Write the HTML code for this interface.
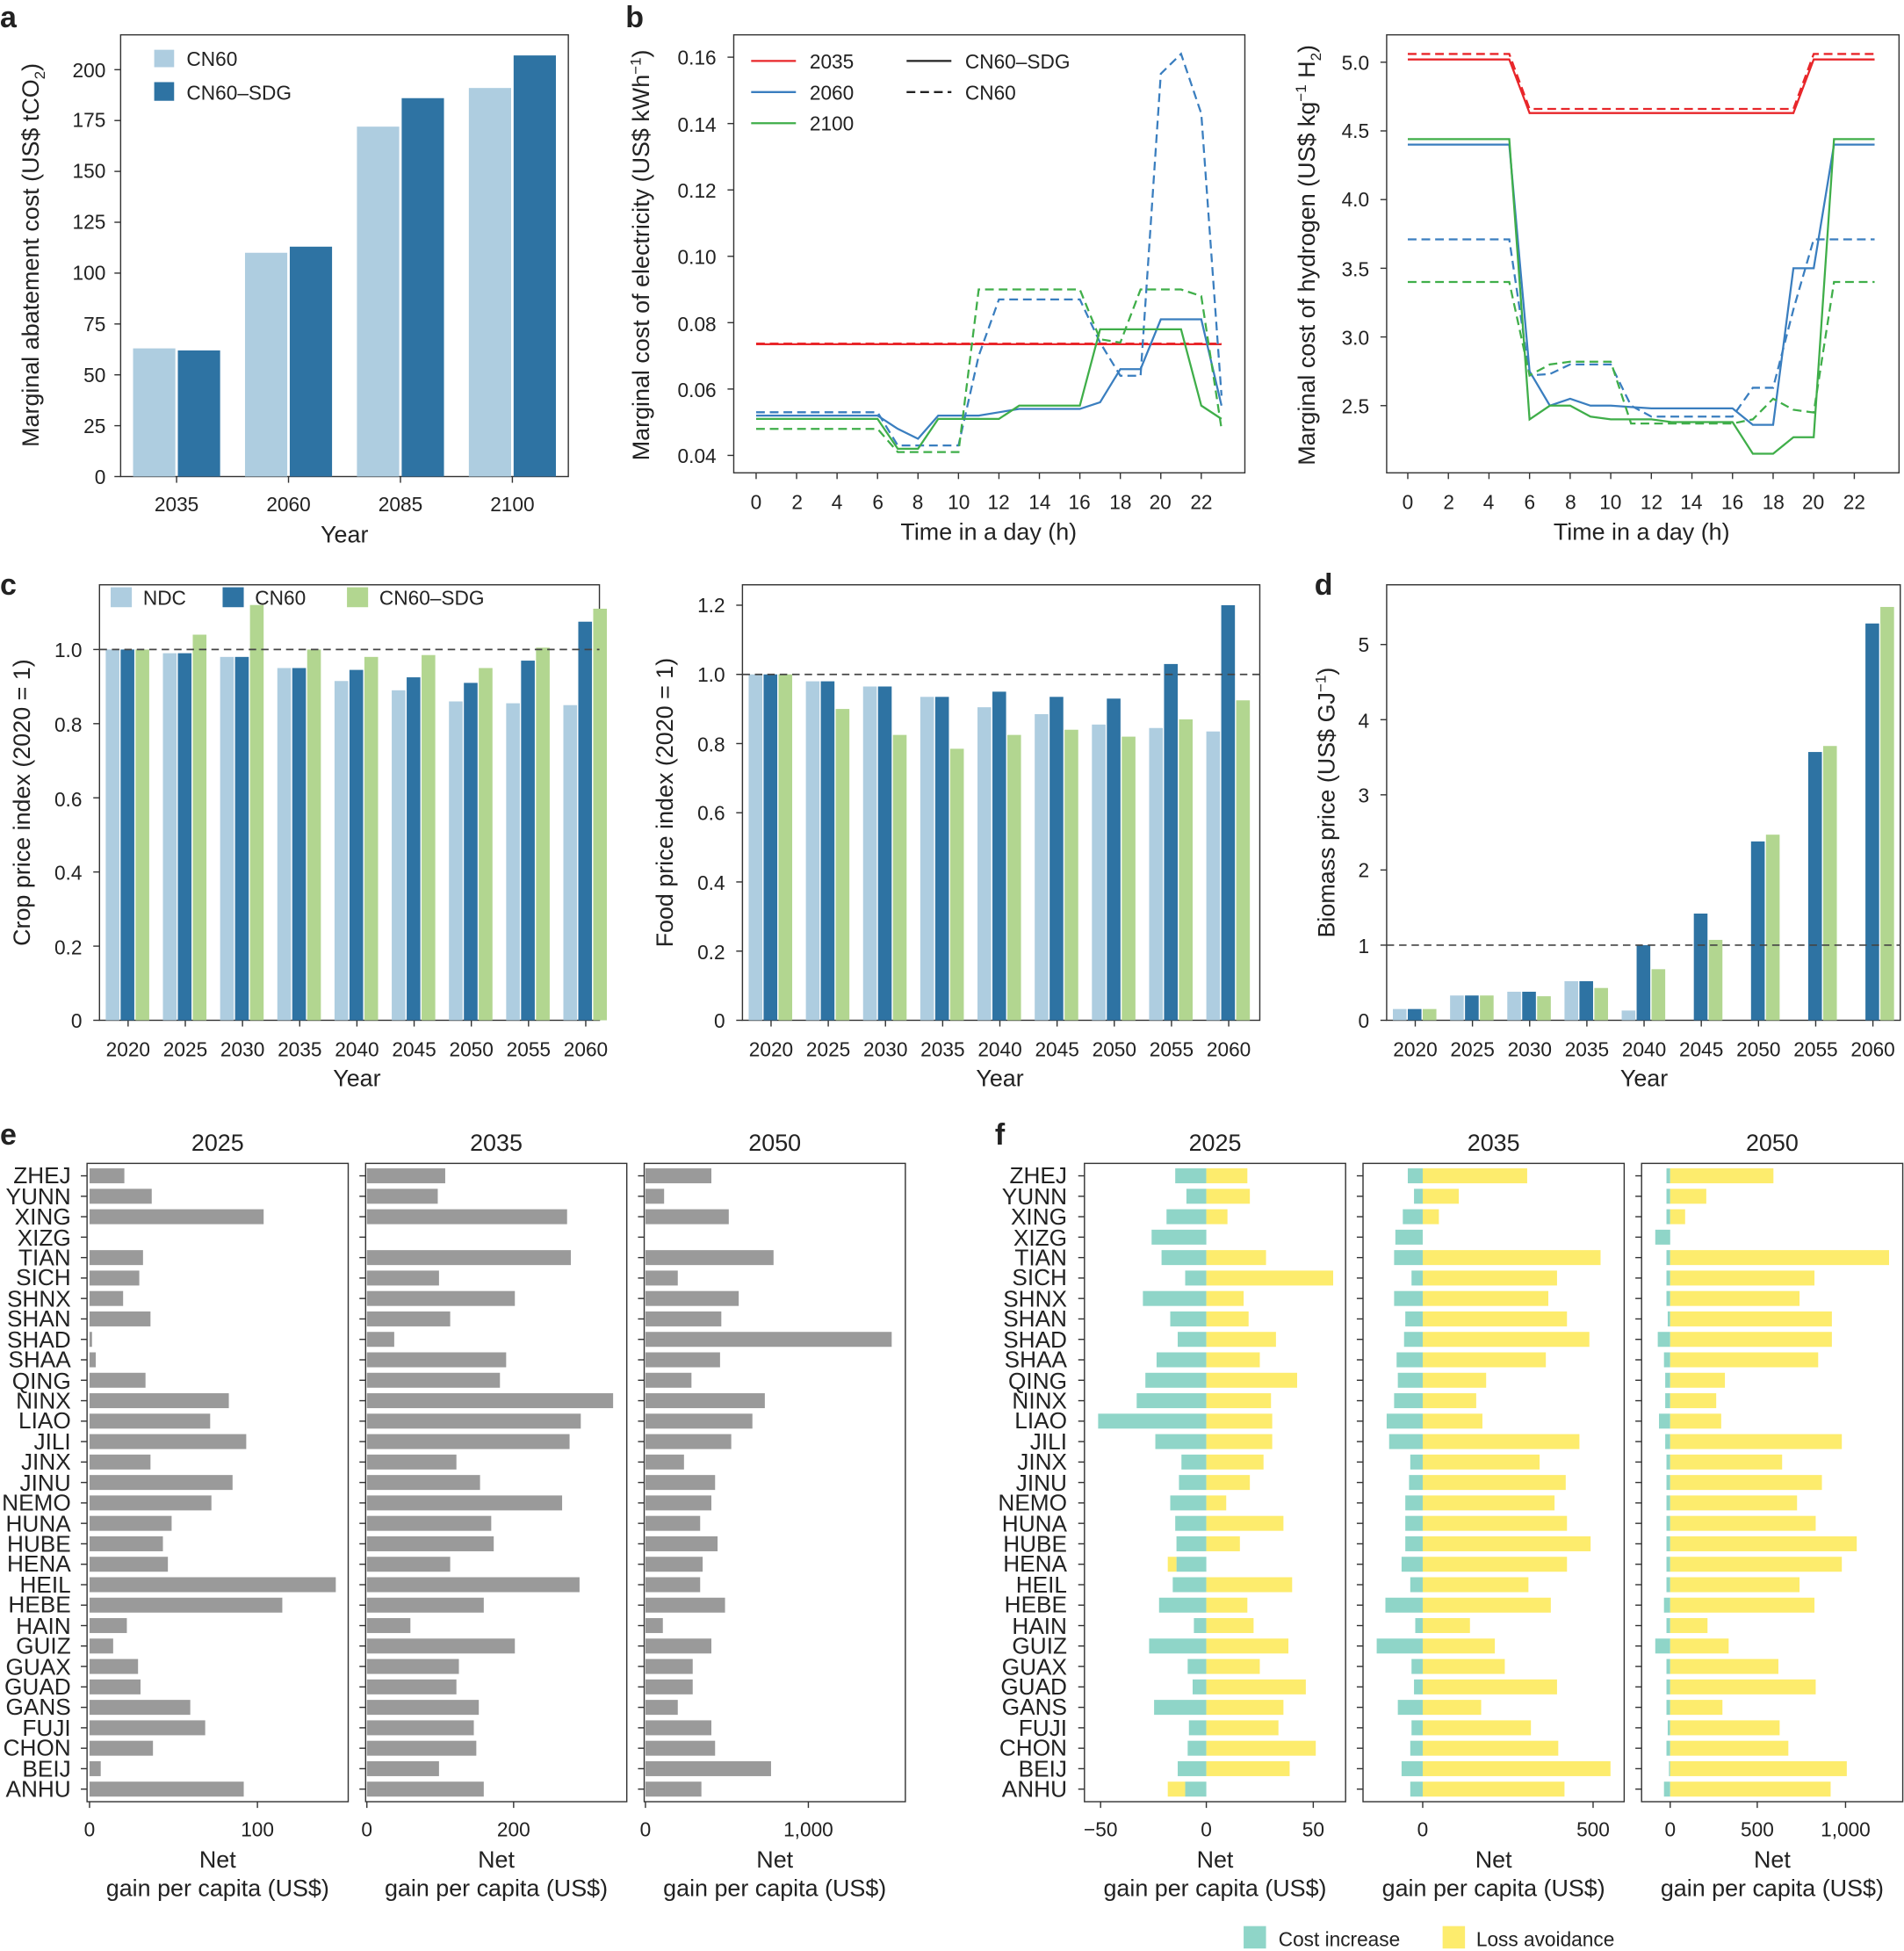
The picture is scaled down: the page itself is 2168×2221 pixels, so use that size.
<!DOCTYPE html>
<html><head><meta charset="utf-8"><style>
html,body{margin:0;padding:0;background:#fff}
svg{display:block}
text{font-family:"Liberation Sans",sans-serif;fill:#222}
.t{font-size:16px}
.ti{font-size:19px}
.p{font-size:18.5px}
.L{font-size:24px;font-weight:bold}
</style></head><body>
<svg id="s" width="2168" height="2221" viewBox="0 0 1531 1568" preserveAspectRatio="none" xmlns="http://www.w3.org/2000/svg">
<g id="g"></g>
<text class="L" x="0" y="22">a</text>
<text class="L" x="503" y="22">b</text>
<text class="L" x="0" y="478">c</text>
<text class="L" x="1057" y="478">d</text>
<text class="L" x="0" y="920">e</text>
<text class="L" x="800" y="920">f</text>

<g class="t" text-anchor="end">
<text x="85" y="389">0</text><text x="85" y="348">25</text><text x="85" y="307">50</text><text x="85" y="266">75</text><text x="85" y="225">100</text><text x="85" y="184">125</text><text x="85" y="143">150</text><text x="85" y="102">175</text><text x="85" y="62">200</text>
</g>
<g class="t" text-anchor="middle">
<text x="142" y="411">2035</text><text x="232" y="411">2060</text><text x="322" y="411">2085</text><text x="412" y="411">2100</text>
</g>
<text class="ti" x="277" y="436" text-anchor="middle">Year</text>
<text class="ti" transform="translate(31,205) rotate(-90)" text-anchor="middle">Marginal abatement cost (US$ tCO<tspan font-size="12" dy="5">2</tspan><tspan dy="-5">)</tspan></text>
<text class="t" x="150" y="53">CN60</text><text class="t" x="150" y="80">CN60–SDG</text>

<g class="t" text-anchor="end">
<text x="576" y="372">0.04</text><text x="576" y="319">0.06</text><text x="576" y="266">0.08</text><text x="576" y="212">0.10</text><text x="576" y="159">0.12</text><text x="576" y="106">0.14</text><text x="576" y="52">0.16</text>
</g>
<g class="t" text-anchor="middle">
<text x="608" y="409">0</text><text x="641" y="409">2</text><text x="673" y="409">4</text><text x="706" y="409">6</text><text x="738" y="409">8</text><text x="771" y="409">10</text><text x="803" y="409">12</text><text x="836" y="409">14</text><text x="868" y="409">16</text><text x="901" y="409">18</text><text x="933" y="409">20</text><text x="966" y="409">22</text>
</g>
<text class="ti" x="795" y="434" text-anchor="middle">Time in a day (h)</text>
<text class="ti" transform="translate(522,205) rotate(-90)" text-anchor="middle">Marginal cost of electricity (US$ kWh<tspan font-size="12" dy="-7">−1</tspan><tspan dy="7">)</tspan></text>
<text class="t" x="651" y="55">2035</text><text class="t" x="651" y="80">2060</text><text class="t" x="651" y="105">2100</text>
<text class="t" x="776" y="55">CN60–SDG</text><text class="t" x="776" y="80">CN60</text>

<g class="t" text-anchor="end">
<text x="1101" y="332">2.5</text><text x="1101" y="277">3.0</text><text x="1101" y="222">3.5</text><text x="1101" y="166">4.0</text><text x="1101" y="111">4.5</text><text x="1101" y="56">5.0</text>
</g>
<g class="t" text-anchor="middle">
<text x="1132" y="409">0</text><text x="1165" y="409">2</text><text x="1197" y="409">4</text><text x="1230" y="409">6</text><text x="1263" y="409">8</text><text x="1295" y="409">10</text><text x="1328" y="409">12</text><text x="1360" y="409">14</text><text x="1393" y="409">16</text><text x="1426" y="409">18</text><text x="1458" y="409">20</text><text x="1491" y="409">22</text>
</g>
<text class="ti" x="1320" y="434" text-anchor="middle">Time in a day (h)</text>
<text class="ti" transform="translate(1057,205) rotate(-90)" text-anchor="middle">Marginal cost of hydrogen (US$ kg<tspan font-size="12" dy="-7">−1</tspan><tspan dy="7"> H</tspan><tspan font-size="12" dy="5">2</tspan><tspan dy="-5">)</tspan></text>

<g class="t" text-anchor="end">
<text x="66" y="826">0</text><text x="66" y="767">0.2</text><text x="66" y="707">0.4</text><text x="66" y="648">0.6</text><text x="66" y="588">0.8</text><text x="66" y="528">1.0</text>
</g>
<g class="t" text-anchor="middle">
<text x="103" y="849">2020</text><text x="149" y="849">2025</text><text x="195" y="849">2030</text><text x="241" y="849">2035</text><text x="287" y="849">2040</text><text x="333" y="849">2045</text><text x="379" y="849">2050</text><text x="425" y="849">2055</text><text x="471" y="849">2060</text>
</g>
<text class="ti" x="287" y="873" text-anchor="middle">Year</text>
<text class="ti" transform="translate(24,645) rotate(-90)" text-anchor="middle">Crop price index (2020 = 1)</text>
<text class="t" x="115" y="486">NDC</text><text class="t" x="205" y="486">CN60</text><text class="t" x="305" y="486">CN60–SDG</text>

<g class="t" text-anchor="end">
<text x="583" y="826">0</text><text x="583" y="771">0.2</text><text x="583" y="715">0.4</text><text x="583" y="659">0.6</text><text x="583" y="604">0.8</text><text x="583" y="548">1.0</text><text x="583" y="492">1.2</text>
</g>
<g class="t" text-anchor="middle">
<text x="620" y="849">2020</text><text x="666" y="849">2025</text><text x="712" y="849">2030</text><text x="758" y="849">2035</text><text x="804" y="849">2040</text><text x="850" y="849">2045</text><text x="896" y="849">2050</text><text x="942" y="849">2055</text><text x="988" y="849">2060</text>
</g>
<text class="ti" x="804" y="873" text-anchor="middle">Year</text>
<text class="ti" transform="translate(541,645) rotate(-90)" text-anchor="middle">Food price index (2020 = 1)</text>

<g class="t" text-anchor="end">
<text x="1101" y="826">0</text><text x="1101" y="766">1</text><text x="1101" y="705">2</text><text x="1101" y="645">3</text><text x="1101" y="585">4</text><text x="1101" y="524">5</text>
</g>
<g class="t" text-anchor="middle">
<text x="1138" y="849">2020</text><text x="1184" y="849">2025</text><text x="1230" y="849">2030</text><text x="1276" y="849">2035</text><text x="1322" y="849">2040</text><text x="1368" y="849">2045</text><text x="1414" y="849">2050</text><text x="1460" y="849">2055</text><text x="1506" y="849">2060</text>
</g>
<text class="ti" x="1322" y="873" text-anchor="middle">Year</text>
<text class="ti" transform="translate(1073,645) rotate(-90)" text-anchor="middle">Biomass price (US$ GJ<tspan font-size="12" dy="-7">−1</tspan><tspan dy="7">)</tspan></text>

<g class="ti" text-anchor="middle">
<text x="175" y="925">2025</text><text x="399" y="925">2035</text><text x="623" y="925">2050</text>
<text x="977" y="925">2025</text><text x="1201" y="925">2035</text><text x="1425" y="925">2050</text>
</g>
<g class="t" text-anchor="middle">
<text x="72" y="1476">0</text><text x="207" y="1476">100</text>
<text x="295" y="1476">0</text><text x="413" y="1476">200</text>
<text x="519" y="1476">0</text><text x="650" y="1476">1,000</text>
<text x="885" y="1476">−50</text><text x="970" y="1476">0</text><text x="1056" y="1476">50</text>
<text x="1144" y="1476">0</text><text x="1281" y="1476">500</text>
<text x="1343" y="1476">0</text><text x="1413" y="1476">500</text><text x="1484" y="1476">1,000</text>
</g>
<g class="ti" text-anchor="middle">
<text x="175" y="1501">Net</text><text x="175" y="1524">gain per capita (US$)</text>
<text x="399" y="1501">Net</text><text x="399" y="1524">gain per capita (US$)</text>
<text x="623" y="1501">Net</text><text x="623" y="1524">gain per capita (US$)</text>
<text x="977" y="1501">Net</text><text x="977" y="1524">gain per capita (US$)</text>
<text x="1201" y="1501">Net</text><text x="1201" y="1524">gain per capita (US$)</text>
<text x="1425" y="1501">Net</text><text x="1425" y="1524">gain per capita (US$)</text>
</g>
<g class="p" text-anchor="end">
<text x="57" y="951">ZHEJ</text><text x="57" y="968">YUNN</text><text x="57" y="984">XING</text><text x="57" y="1001">XIZG</text><text x="57" y="1017">TIAN</text><text x="57" y="1033">SICH</text><text x="57" y="1050">SHNX</text><text x="57" y="1066">SHAN</text><text x="57" y="1083">SHAD</text><text x="57" y="1099">SHAA</text><text x="57" y="1116">QING</text><text x="57" y="1132">NINX</text><text x="57" y="1148">LIAO</text><text x="57" y="1165">JILI</text><text x="57" y="1181">JINX</text><text x="57" y="1198">JINU</text><text x="57" y="1214">NEMO</text><text x="57" y="1231">HUNA</text><text x="57" y="1247">HUBE</text><text x="57" y="1263">HENA</text><text x="57" y="1280">HEIL</text><text x="57" y="1296">HEBE</text><text x="57" y="1313">HAIN</text><text x="57" y="1329">GUIZ</text><text x="57" y="1346">GUAX</text><text x="57" y="1362">GUAD</text><text x="57" y="1378">GANS</text><text x="57" y="1395">FUJI</text><text x="57" y="1411">CHON</text><text x="57" y="1428">BEIJ</text><text x="57" y="1444">ANHU</text>
</g>
<g class="p" text-anchor="end">
<text x="858" y="951">ZHEJ</text><text x="858" y="968">YUNN</text><text x="858" y="984">XING</text><text x="858" y="1001">XIZG</text><text x="858" y="1017">TIAN</text><text x="858" y="1033">SICH</text><text x="858" y="1050">SHNX</text><text x="858" y="1066">SHAN</text><text x="858" y="1083">SHAD</text><text x="858" y="1099">SHAA</text><text x="858" y="1116">QING</text><text x="858" y="1132">NINX</text><text x="858" y="1148">LIAO</text><text x="858" y="1165">JILI</text><text x="858" y="1181">JINX</text><text x="858" y="1198">JINU</text><text x="858" y="1214">NEMO</text><text x="858" y="1231">HUNA</text><text x="858" y="1247">HUBE</text><text x="858" y="1263">HENA</text><text x="858" y="1280">HEIL</text><text x="858" y="1296">HEBE</text><text x="858" y="1313">HAIN</text><text x="858" y="1329">GUIZ</text><text x="858" y="1346">GUAX</text><text x="858" y="1362">GUAD</text><text x="858" y="1378">GANS</text><text x="858" y="1395">FUJI</text><text x="858" y="1411">CHON</text><text x="858" y="1428">BEIJ</text><text x="858" y="1444">ANHU</text>
</g>
<text class="t" x="1028" y="1564">Cost increase</text>
<text class="t" x="1187" y="1564">Loss avoidance</text>
</svg>
<script>
const NS="http://www.w3.org/2000/svg",G=document.getElementById('g');
function el(t,a){const e=document.createElementNS(NS,t);for(const k in a)e.setAttribute(k,a[k]);G.appendChild(e);return e;}
function rect(x,y,w,h,f){if(w<0){x+=w;w=-w;}if(h<0){y+=h;h=-h;}el('rect',{x,y,width:w,height:h,fill:f});}
function box(x1,y1,x2,y2){el('rect',{x:x1,y:y1,width:x2-x1,height:y2-y1,fill:'none',stroke:'#333','stroke-width':1});}
function ln(x1,y1,x2,y2,s,d,w){const a={x1,y1,x2,y2,stroke:s||'#333','stroke-width':w||1};if(d)a['stroke-dasharray']=d;el('line',a);}
const LB='#aecde0',DB='#2e73a3',LG='#b2d690',GR='#9a9a9a',CY='#8fd5c8',YE='#fdec6d',RED='#e8262a',BL='#3a7ebf',GN='#3fae49';
box(97,28,457,383);
[0,25,50,75,100,125,150,175,200].forEach(v=>{const y=383-v*1.635;ln(92,y,97,y);});
[142,232,322,412].forEach(x=>ln(x,383,x,388));
[[107,63],[143,62],[197,110],[233,113],[287,172],[323,186],[377,191],[413,207]].forEach((b,i)=>rect(b[0],383-b[1]*1.635,34,b[1]*1.635,i%2?DB:LB));
rect(124,40,16,14,LB);rect(124,66,16,15,DB);
box(590,28,1001,380);
const xe=h=>608+h*16.27,ye=v=>366-(v-0.04)*2667;
for(let v=0.04;v<0.161;v+=0.02)ln(585,ye(v),590,ye(v));
for(let h=0;h<=22;h+=2)ln(xe(h),380,xe(h),385);
function series(xf,yf,arr,c,d){el('polyline',{points:arr.map((v,h)=>xf(h)+','+yf(v)).join(' '),fill:'none',stroke:c,'stroke-width':1.6,'stroke-dasharray':d||''});}
const D='7,4';
series(xe,ye,Array(24).fill(0.0735),RED);series(xe,ye,Array(24).fill(0.0737),RED,D);
series(xe,ye,[.052,.052,.052,.052,.052,.052,.052,.048,.045,.052,.052,.052,.053,.054,.054,.054,.054,.056,.066,.066,.081,.081,.081,.055],BL);
series(xe,ye,[.053,.053,.053,.053,.053,.053,.053,.043,.043,.043,.043,.07,.087,.087,.087,.087,.087,.074,.064,.064,.155,.161,.143,.058],BL,D);
series(xe,ye,[.051,.051,.051,.051,.051,.051,.051,.042,.042,.051,.051,.051,.051,.055,.055,.055,.055,.078,.078,.078,.078,.078,.055,.051],GN);
series(xe,ye,[.048,.048,.048,.048,.048,.048,.048,.041,.041,.041,.041,.09,.09,.09,.09,.09,.09,.075,.074,.09,.09,.09,.088,.048],GN,D);
ln(604,49,640,49,RED,'',1.6);ln(604,74,640,74,BL,'',1.6);ln(604,99,640,99,GN,'',1.6);
ln(729,49,765,49,'#222','',1.6);ln(729,74,765,74,'#222',D,1.6);
box(1115,28,1527,380);
const xh=h=>1132+h*16.32,yh=v=>326-(v-2.5)*110.4;
for(let v=2.5;v<5.01;v+=0.5)ln(1110,yh(v),1115,yh(v));
for(let h=0;h<=22;h+=2)ln(xh(h),380,xh(h),385);
const r1=[];for(let h=0;h<24;h++)r1.push(h<=5||h>=20?5.02:4.63);
const r2=[];for(let h=0;h<24;h++)r2.push(h<=5||h>=20?5.06:4.66);
series(xh,yh,r1,RED);series(xh,yh,r2,RED,D);
series(xh,yh,[4.4,4.4,4.4,4.4,4.4,4.4,2.75,2.5,2.55,2.5,2.5,2.49,2.48,2.48,2.48,2.48,2.48,2.36,2.36,3.5,3.5,4.4,4.4,4.4],BL);
series(xh,yh,[3.71,3.71,3.71,3.71,3.71,3.71,2.72,2.73,2.8,2.8,2.8,2.5,2.42,2.42,2.42,2.42,2.42,2.63,2.63,3.2,3.71,3.71,3.71,3.71],BL,D);
series(xh,yh,[4.44,4.44,4.44,4.44,4.44,4.44,2.4,2.5,2.5,2.42,2.4,2.4,2.4,2.38,2.38,2.38,2.38,2.15,2.15,2.27,2.27,4.44,4.44,4.44],GN);
series(xh,yh,[3.4,3.4,3.4,3.4,3.4,3.4,2.72,2.8,2.82,2.82,2.82,2.37,2.37,2.37,2.37,2.37,2.37,2.4,2.55,2.47,2.45,3.4,3.4,3.4],GN,D);
function grp(x1,y1,x2,y0,sc,cs,ticks,A,B,C){box(x1,y1,x2,y0);
 ticks.forEach(v=>ln(x1-5,y0-v*sc,x1,y0-v*sc));
 cs.forEach((c,i)=>{ln(c,y0,c,y0+5);rect(c-18,y0-A[i]*sc,11,A[i]*sc,LB);rect(c-6,y0-B[i]*sc,11,B[i]*sc,DB);rect(c+6,y0-C[i]*sc,11,C[i]*sc,LG);});
 ln(x1,y0-sc,x2,y0-sc,'#444','6,4',1.2);}
const c1=[],c2=[],c3=[];for(let i=0;i<9;i++){c1.push(103+46*i);c2.push(620+46*i);c3.push(1138+46*i);}
grp(80,470,482,820,298,c1,[0,.2,.4,.6,.8,1],[1,.99,.98,.95,.915,.89,.86,.855,.85],[1,.99,.98,.95,.945,.925,.91,.97,1.075],[1,1.04,1.12,1,.98,.985,.95,1.005,1.11]);
grp(597,470,1013,820,278,c2,[0,.2,.4,.6,.8,1,1.2],[1,.98,.965,.935,.905,.885,.855,.845,.835],[1,.98,.965,.935,.95,.935,.93,1.03,1.2],[1,.9,.825,.785,.825,.84,.82,.87,.925]);
grp(1115,470,1528,820,60.4,c3,[0,1,2,3,4,5],[.15,.33,.38,.52,.13,0,0,0,0],[.15,.33,.38,.52,1,1.42,2.38,3.57,5.28],[.15,.33,.32,.43,.68,1.07,2.47,3.65,5.5]);
rect(89,472,17,16,LB);rect(179,472,17,16,DB);rect(279,472,17,16,LG);
const ry=i=>945+i*16.43;
function ebox(x1,x2,z,ends,tk){box(x1,935,x2,1448);tk.forEach(x=>ln(x,1448,x,1453));
 for(let i=0;i<31;i++){ln(x1-5,ry(i),x1,ry(i));if(ends[i]>z)rect(z,ry(i)-6,ends[i]-z,12,GR);}}
ebox(70,280,72,[100,122,212,72,115,112,99,121,74,77,117,184,169,198,121,187,170,138,131,135,270,227,102,91,111,113,153,165,123,81,196],[72,207]);
ebox(294,504,295,[358,352,456,295,459,353,414,362,317,407,402,493,467,458,367,386,452,395,397,362,466,389,330,414,369,367,385,381,383,353,389],[295,413]);
ebox(518,728,519,[572,534,586,519,622,545,594,580,717,579,556,615,605,588,550,575,572,563,577,565,563,583,533,572,557,557,545,572,575,620,564],[519,650]);
function fbox(x1,x2,z,cy,ye,tk){box(x1,935,x2,1448);tk.forEach(x=>ln(x,1448,x,1453));
 for(let i=0;i<31;i++){ln(x1-5,ry(i),x1,ry(i));const y=ry(i)-6;
  if(cy[i]<z)rect(cy[i],y,z-cy[i],12,CY);
  if(ye[i]>z)rect(z,y,ye[i]-z,12,YE);else if(ye[i]<cy[i])rect(ye[i],y,cy[i]-ye[i],12,YE);}}
fbox(872,1082,970,[945,954,938,926,934,953,919,941,947,930,921,914,883,929,950,948,941,945,946,946,943,932,960,924,955,959,928,956,955,947,953],
[1003,1005,987,970,1018,1072,1000,1004,1026,1013,1043,1022,1023,1023,1016,1005,986,1032,997,939,1039,1003,1008,1036,1013,1050,1032,1028,1058,1037,939],[885,970,1056]);
fbox(1096,1306,1144,[1132,1137,1128,1122,1121,1135,1121,1130,1129,1123,1124,1121,1115,1117,1134,1133,1130,1130,1130,1127,1134,1114,1138,1107,1135,1137,1124,1135,1134,1127,1134],
[1228,1173,1157,1144,1287,1252,1245,1260,1278,1243,1195,1187,1192,1270,1238,1259,1250,1260,1279,1260,1229,1247,1182,1202,1210,1252,1191,1231,1253,1295,1258],[1144,1281]);
fbox(1320,1530,1343,[1340,1340,1340,1331,1340,1340,1340,1341,1333,1338,1339,1339,1334,1339,1340,1340,1340,1340,1340,1340,1340,1338,1340,1331,1340,1340,1340,1341,1340,1342,1338],
[1426,1372,1355,1343,1519,1459,1447,1473,1473,1462,1387,1380,1384,1481,1433,1465,1445,1460,1493,1481,1447,1459,1373,1390,1430,1460,1385,1431,1438,1485,1472],[1343,1413,1484]);
rect(1000,1548,18,18,CY);rect(1160,1548,18,18,YE);
</script>
</body></html>
